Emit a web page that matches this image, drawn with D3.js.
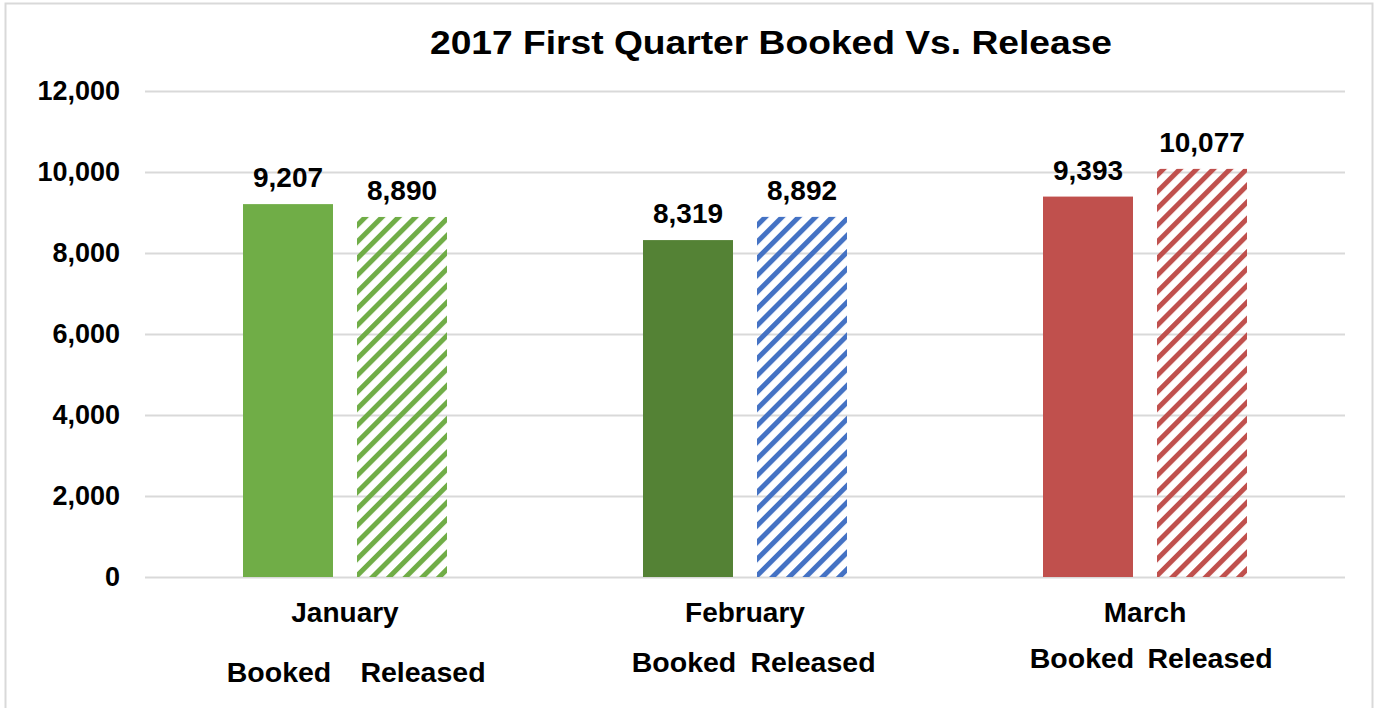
<!DOCTYPE html>
<html>
<head>
<meta charset="utf-8">
<script src="https://cdn.jsdelivr.net/npm/d3@7"></script>
<style>
  html, body { margin: 0; padding: 0; background: #fff; }
  svg { display: block; font-family: Arial, "Liberation Sans", sans-serif; font-weight: bold; }
</style>
</head>
<body>
<svg id="chart" width="1377" height="708"></svg>
<script>
const months = ['January', 'February', 'March'];
const series = ['Booked', 'Released'];
const booked = [9207, 8319, 9393];
const released = [8890, 8892, 10077];
const yTicks = [0, 2000, 4000, 6000, 8000, 10000, 12000];
const title = '2017 First Quarter Booked Vs. Release';

// colours per month: solid booked bar, hatched released bar
const bookedColors = ['#70ad47', '#548235', '#c0504d'];
const releasedColors = ['#70ad47', '#4472c4', '#c0504d'];

// hand placed "Booked  Released" captions under each month (offsets from group centre)
const captionLayout = [
  { booked: -66, released: 78, y: 682 },
  { booked: -61, released: 68, y: 672 },
  { booked: -63, released: 65, y: 668 }
];

const svg = d3.select('#chart');
const margin = { top: 91, left: 145, right: 32, bottom: 131 };
const W = 1377, H = 708;

// frame
svg.append('rect')
  .attr('x', 5.5).attr('y', 3.5)
  .attr('width', 1367).attr('height', 720)
  .attr('fill', 'none').attr('stroke', '#d9d9d9').attr('stroke-width', 2);

const x0 = d3.scaleBand().domain(months).range([margin.left, W - margin.right]);
const x1 = d3.scaleBand().domain(series)
  .range([x0.bandwidth() / 2 - 102, x0.bandwidth() / 2 + 102])
  .paddingInner(0.2105);
const y = d3.scaleLinear().domain([0, 12000]).range([H - margin.bottom, margin.top]);

// hatch patterns
const defs = svg.append('defs');
releasedColors.forEach((c, i) => {
  const p = defs.append('pattern')
    .attr('id', 'hatch' + i)
    .attr('patternUnits', 'userSpaceOnUse')
    .attr('width', 11.8).attr('height', 11.8)
    .attr('patternTransform', 'rotate(45)');
  p.append('rect').attr('x', 0).attr('y', 0)
    .attr('width', 5).attr('height', 11.8)
    .attr('fill', c);
});

// y axis + gridlines
const yAxis = svg.append('g')
  .attr('transform', `translate(${margin.left},0)`)
  .call(d3.axisLeft(y).tickValues(yTicks)
    .tickSizeInner(-(W - margin.left - margin.right)).tickSizeOuter(0)
    .tickPadding(25)
    .tickFormat(d3.format(',')));
yAxis.select('.domain').remove();
yAxis.selectAll('.tick line').attr('stroke', '#d9d9d9').attr('stroke-width', 2);
yAxis.selectAll('.tick text')
  .attr('fill', '#000').style('font-size', '27px').style('font-weight', 'bold')
  .attr('font-family', null);

// x axis (month names)
const xAxis = svg.append('g')
  .attr('transform', `translate(0,${y(0)})`)
  .call(d3.axisBottom(x0).tickSize(0).tickPadding(25));
xAxis.select('.domain').remove();
xAxis.selectAll('.tick text')
  .attr('fill', '#000').style('font-size', '28px').style('font-weight', 'bold')
  .attr('font-family', null);

const rows = months.map((m, i) => ({ month: m, i, values: [booked[i], released[i]] }));

const groups = svg.append('g').selectAll('g')
  .data(rows).join('g')
  .attr('transform', d => `translate(${x0(d.month)},0)`);

groups.selectAll('rect')
  .data(d => series.map((s, k) => ({ s, v: d.values[k], i: d.i })))
  .join('rect')
  .attr('x', d => x1(d.s))
  .attr('width', x1.bandwidth())
  .attr('y', d => y(d.v))
  .attr('height', d => y(0) - y(d.v))
  .attr('fill', d => d.s === 'Booked' ? bookedColors[d.i] : `url(#hatch${d.i})`);

groups.selectAll('text.val')
  .data(d => series.map((s, k) => ({ s, v: d.values[k] })))
  .join('text')
  .attr('class', 'val')
  .attr('x', d => x1(d.s) + x1.bandwidth() / 2)
  .attr('y', d => y(d.v) - 17)
  .attr('text-anchor', 'middle')
  .style('font-size', '28px')
  .text(d => d3.format(',')(d.v));

// captions under the months
groups.each(function (d) {
  const g = d3.select(this);
  const c = captionLayout[d.i];
  const cx = x0.bandwidth() / 2;
  g.append('text').attr('x', cx + c.booked).attr('y', c.y)
    .attr('text-anchor', 'middle').style('font-size', '28.5px').text(series[0]);
  g.append('text').attr('x', cx + c.released).attr('y', c.y)
    .attr('text-anchor', 'middle').style('font-size', '28.5px').text(series[1]);
});

// title
svg.append('text')
  .attr('x', 771).attr('y', 54)
  .attr('text-anchor', 'middle')
  .attr('textLength', 682)
  .attr('lengthAdjust', 'spacingAndGlyphs')
  .style('font-size', '33px')
  .text(title);
</script>
</body>
</html>
